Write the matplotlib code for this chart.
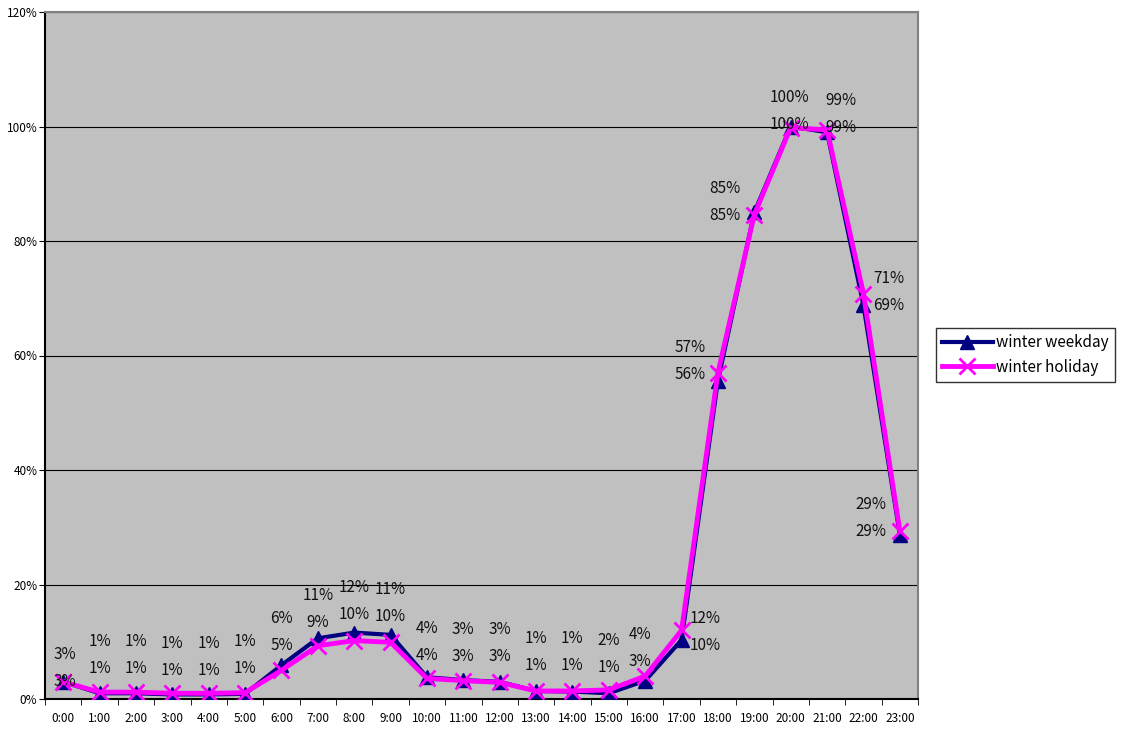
import matplotlib
matplotlib.use("Agg")
import matplotlib.pyplot as plt
import numpy as np

plt.rcParams['font.family'] = ['Noto Sans CJK JP', 'DejaVu Sans']

hours = [f"{h}:00" for h in range(24)]
weekday = [3.0, 1.0, 1.0, 0.8, 0.8, 0.9, 5.9, 10.6, 11.6, 11.2, 3.8, 3.3, 3.0, 1.4, 1.3, 1.0,
           3.2, 10.3, 55.6, 85.0, 100.0, 99.0, 68.8, 28.7]
holiday = [3.0, 1.2, 1.2, 1.0, 1.0, 1.1, 5.0, 9.3, 10.2, 9.9, 3.6, 3.2, 2.9, 1.4, 1.4, 1.6,
           4.0, 12.0, 57.0, 84.6, 99.8, 99.4, 70.8, 29.4]
yticks = [0, 20, 40, 60, 80, 100, 120]

# label placement (pixels): horizontal shift, lower label rise above the higher point
lab_dx = [2, 0, 0, 0, 0, 0, 0, 0, 0, 0, 0, 0, 0, 0, 0, 0, -5, 24, -28, -29, -1, 14, 25, -29]
lab_dy = [0, 24, 24, 23, 23, 24, 20, 16, 18, 18, 22, 24, 25, 25, 25, 22, 15, -15, -2, -3, 2, 2, -12, -1]
lab_gap = 27

fig = plt.figure(figsize=(11.21, 7.29), dpi=100)
ax = fig.add_axes([45/1121, 1-699/729, (918-45)/1121, (699-12)/729])
ax.set_facecolor('#C0C0C0')

x = np.arange(len(hours))
ax.plot(x, weekday, color='#000080', lw=3, marker='^', ms=10, mec='#000080',
        mfc='#000080', label='winter weekday', zorder=3)
ax.plot(x, holiday, color='#FF00FF', lw=3.5, marker='x', ms=11, mew=2,
        mec='#FF00FF', label='winter holiday', zorder=4)

ax.set_xlim(-0.5, len(hours) - 0.5)
ax.set_ylim(0, 120)
ax.set_yticks(yticks)
ax.set_yticklabels([f"{v}%" for v in yticks], fontsize=8.5)
ax.set_xticks(x)
ax.set_xticklabels(hours, fontsize=8.5)
ax.tick_params(axis='x', length=0, pad=9)
ax.set_xticks(np.arange(-0.5, len(hours), 1), minor=True)
ax.tick_params(axis='x', which='minor', length=4, direction='out', color='black')
ax.tick_params(axis='y', length=4, direction='out', pad=1.5)
ax.yaxis.grid(True, color='black', lw=0.8)
ax.set_axisbelow(True)
for s in ['left', 'bottom']:
    ax.spines[s].set_color('black')
    ax.spines[s].set_linewidth(1.5)
for s in ['top', 'right']:
    ax.spines[s].set_color('#808080')
    ax.spines[s].set_linewidth(1.5)

k = 0.72  # px -> points at 100 dpi
for i in range(len(hours)):
    hi = max(weekday[i], holiday[i])
    lo = min(weekday[i], holiday[i])
    ax.annotate(f"{round(lo)}%", (i, hi), xytext=(lab_dx[i]*k, lab_dy[i]*k),
                textcoords='offset points', ha='center', va='center', fontsize=11,
                color='#111111', zorder=5)
    ax.annotate(f"{round(hi)}%", (i, hi), xytext=(lab_dx[i]*k, (lab_dy[i]+lab_gap)*k),
                textcoords='offset points', ha='center', va='center', fontsize=11,
                color='#111111', zorder=5)

leg = fig.legend(loc='center left', bbox_to_anchor=(936/1121, 1-355/729), fontsize=11,
                 frameon=True, fancybox=False, edgecolor='black', handlelength=3.3,
                 borderpad=0.4, labelspacing=0.5, handletextpad=0.25, borderaxespad=0)
leg.get_frame().set_linewidth(1)

fig.savefig('out.png', dpi=100)
